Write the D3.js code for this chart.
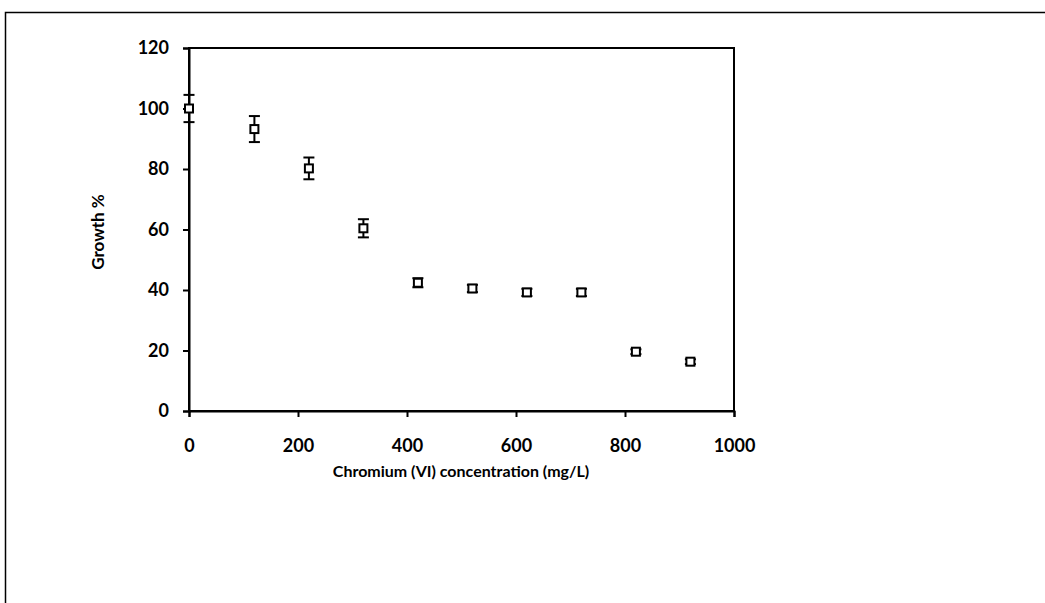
<!DOCTYPE html>
<html>
<head>
<meta charset="utf-8">
<script src="https://cdn.jsdelivr.net/npm/d3@7"></script>
<style>
  html, body { margin: 0; padding: 0; background: #fff; }
  svg { display: block; }
  text { font-family: Lato, "Open Sans", sans-serif; font-weight: bold; fill: #000; }
</style>
</head>
<body>
<svg id="chart" width="1045" height="603"></svg>
<script>
// Growth of the culture under increasing Cr(VI) concentration
const concentration = [0, 120, 220, 320, 420, 520, 620, 720, 820, 920];
const growth        = [100, 93.2, 80.2, 60.4, 42.4, 40.5, 39.2, 39.2, 19.6, 16.3];
const growthError   = [4.5, 4.3, 3.6, 3.0, 1.5, 1.2, 1.2, 1.2, 0.8, 0.8];
const xTicks = [0, 200, 400, 600, 800, 1000];
const yTicks = [0, 20, 40, 60, 80, 100, 120];

const svg = d3.select("#chart");

// outer chart frame
svg.append("rect")
  .attr("x", 5.5).attr("y", 12.5)
  .attr("width", 1100).attr("height", 700)
  .attr("fill", "none").attr("stroke", "#000").attr("stroke-width", 1.5);

const plotLeft = 189, plotRight = 734, plotTop = 48, plotBottom = 411;
const x = d3.scaleLinear().domain([0, 1000]).range([plotLeft, plotRight]);
const y = d3.scaleLinear().domain([0, 120]).range([plotBottom, plotTop]);

// plot area box
svg.append("rect")
  .attr("x", plotLeft).attr("y", plotTop)
  .attr("width", plotRight - plotLeft).attr("height", plotBottom - plotTop)
  .attr("fill", "none").attr("stroke", "#000").attr("stroke-width", 2);

const xAxis = svg.append("g")
  .attr("transform", `translate(0,${plotBottom})`)
  .call(d3.axisBottom(x).tickValues(xTicks).tickFormat(d3.format("d")).tickSize(6).tickPadding(22));
const yAxis = svg.append("g")
  .attr("transform", `translate(${plotLeft},0)`)
  .call(d3.axisLeft(y).tickValues(yTicks).tickFormat(d3.format("d")).tickSize(6).tickPadding(14));

[xAxis, yAxis].forEach(g => {
  g.select(".domain").attr("stroke", "#000").attr("stroke-width", 2);
  g.selectAll(".tick line").attr("stroke", "#000").attr("stroke-width", 2);
  g.selectAll(".tick text").style("font-size", "18px")
    .style("font-family", "Lato, 'Open Sans', sans-serif").style("font-weight", "bold");
});

// error bars
const cap = 5.5;
const eb = svg.append("g").attr("stroke", "#000").attr("stroke-width", 2);
concentration.forEach((c, i) => {
  const cx = x(c), hi = y(growth[i] + growthError[i]), lo = y(growth[i] - growthError[i]);
  eb.append("line").attr("x1", cx).attr("x2", cx).attr("y1", hi).attr("y2", lo);
  eb.append("line").attr("x1", cx - cap).attr("x2", cx + cap).attr("y1", hi).attr("y2", hi);
  eb.append("line").attr("x1", cx - cap).attr("x2", cx + cap).attr("y1", lo).attr("y2", lo);
});

// open square markers
const s = 8;
svg.append("g").selectAll("rect").data(concentration).join("rect")
  .attr("x", d => x(d) - s / 2)
  .attr("y", (d, i) => y(growth[i]) - s / 2)
  .attr("width", s).attr("height", s)
  .attr("fill", "#fff").attr("stroke", "#000").attr("stroke-width", 2);

// axis titles
svg.append("text")
  .attr("x", 461).attr("y", 477)
  .attr("text-anchor", "middle").style("font-size", "16px")
  .text("Chromium (VI) concentration (mg/L)");
svg.append("text")
  .attr("transform", `translate(104,232) rotate(-90)`)
  .attr("text-anchor", "middle").style("font-size", "17px")
  .text("Growth %");
</script>
</body>
</html>
